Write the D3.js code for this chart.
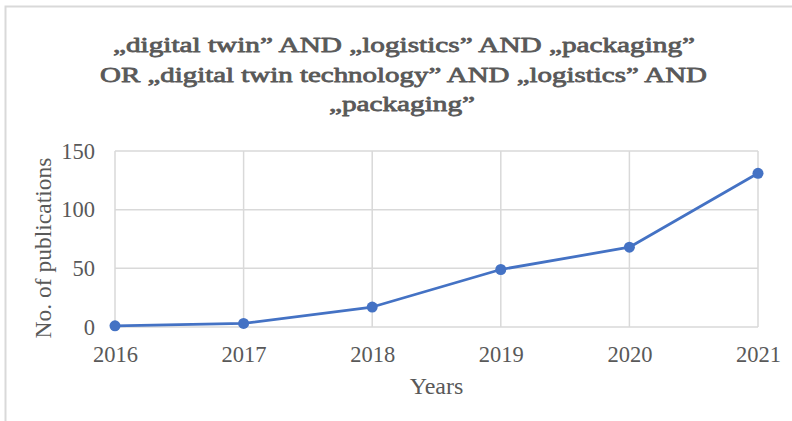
<!DOCTYPE html>
<html>
<head>
<meta charset="utf-8">
<script src="https://cdn.jsdelivr.net/npm/d3@7/dist/d3.min.js"></script>
<style>
  html, body { margin: 0; padding: 0; background: #fff; }
  svg { display: block; }
  text { font-family: "Liberation Serif", "Times New Roman", serif; fill: #595959; }
</style>
</head>
<body>
<svg id="chart" width="792" height="421"></svg>
<script>
const years = ["2016", "2017", "2018", "2019", "2020", "2021"];
const publications = [1, 3, 17, 49, 68, 131];
const yTicks = [0, 50, 100, 150];
const titleLines = [
  "\u201Edigital twin\u201D AND \u201Elogistics\u201D AND \u201Epackaging\u201D",
  "OR \u201Edigital twin technology\u201D AND \u201Elogistics\u201D AND",
  "\u201Epackaging\u201D"
];
const xTitle = "Years";
const yTitle = "No. of publications";

const svg = d3.select("#chart");
const margin = { left: 115, right: 758, top: 151, bottom: 327 };
const SERIF = '"Liberation Serif", "Times New Roman", serif';

// outer chart border (extends beyond viewport on right/bottom)
svg.append("rect")
  .attr("x", 5.5).attr("y", 6.5)
  .attr("width", 900).attr("height", 600)
  .attr("fill", "none").attr("stroke", "#d9d9d9").attr("stroke-width", 2);

const x = d3.scalePoint().domain(years).range([margin.left, margin.right]);
const y = d3.scaleLinear().domain([0, 150]).range([margin.bottom, margin.top]);

// gridlines
const grid = svg.append("g");
grid.selectAll("line.h").data(yTicks).join("line")
  .attr("x1", margin.left).attr("x2", margin.right)
  .attr("y1", d => y(d)).attr("y2", d => y(d))
  .attr("stroke", "#d9d9d9").attr("stroke-width", 1.5);
grid.selectAll("line.v").data(years).join("line")
  .attr("x1", d => x(d)).attr("x2", d => x(d))
  .attr("y1", margin.top).attr("y2", margin.bottom)
  .attr("stroke", "#d9d9d9").attr("stroke-width", 1.5);

// y axis
const yAxis = svg.append("g")
  .attr("transform", `translate(${margin.left - 20},0)`)
  .call(d3.axisLeft(y).tickValues(yTicks).tickSize(0).tickPadding(0));
yAxis.select(".domain").remove();
yAxis.selectAll("text").style("font-size", "22.5px").attr("fill", "#595959")
  .style("font-family", SERIF);

// x axis
const xAxis = svg.append("g")
  .attr("transform", `translate(0,${margin.bottom + 19})`)
  .call(d3.axisBottom(x).tickSize(0).tickPadding(0));
xAxis.select(".domain").remove();
xAxis.selectAll("text").style("font-size", "22.5px").attr("fill", "#595959")
  .style("font-family", SERIF);

// line
const line = d3.line().x((d, i) => x(years[i])).y(d => y(d));
svg.append("path").datum(publications)
  .attr("d", line).attr("fill", "none")
  .attr("stroke", "#4472c4").attr("stroke-width", 2.75)
  .attr("stroke-linejoin", "round");
svg.selectAll("circle.pt").data(publications).join("circle")
  .attr("cx", (d, i) => x(years[i])).attr("cy", d => y(d))
  .attr("r", 5.5).attr("fill", "#4472c4");

// title (faux bold serif)
const titleX = [404, 403.5, 402];
const titleW = [582, 607, 146];
const titleY = [52, 81.5, 111];
const title = svg.append("text")
  .attr("text-anchor", "middle")
  .style("font-family", SERIF)
  .style("font-size", "22px")
  .attr("stroke", "#595959").attr("stroke-width", 0.8)
  .attr("stroke-linejoin", "round");
title.selectAll("tspan").data(titleLines).join("tspan")
  .attr("x", (d, i) => titleX[i]).attr("y", (d, i) => titleY[i])
  .attr("textLength", (d, i) => titleW[i])
  .attr("lengthAdjust", "spacingAndGlyphs")
  .text(d => d);

// axis titles
svg.append("text").attr("x", (margin.left + margin.right) / 2).attr("y", 394)
  .attr("text-anchor", "middle").style("font-size", "24px").text(xTitle);
svg.append("text")
  .attr("transform", `translate(51,${(margin.top + margin.bottom) / 2 + 9}) rotate(-90)`)
  .attr("text-anchor", "middle").style("font-size", "23.5px").text(yTitle);
</script>
</body>
</html>
